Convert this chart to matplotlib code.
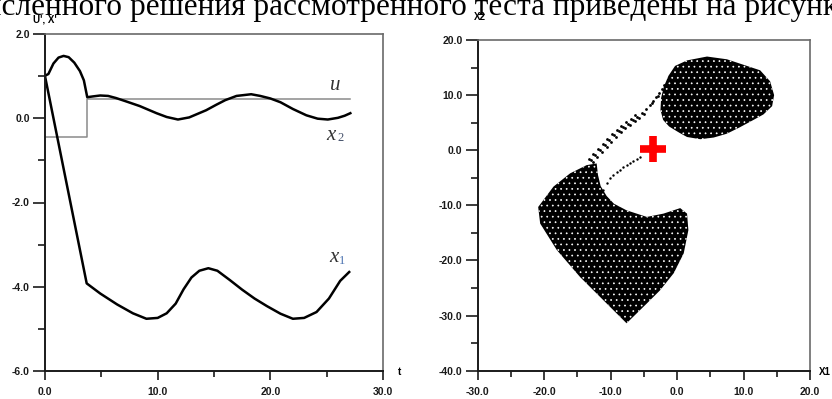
import matplotlib
matplotlib.use("Agg")
import matplotlib.pyplot as plt
from matplotlib.ticker import MultipleLocator, FormatStrFormatter

# --- left panel: controls and states over time ---
u_t = [0.0, 3.73, 3.73, 27.1]
u_val = [-0.45, -0.45, 0.46, 0.46]

x1_t = [0.0, 3.7, 4.9, 6.4, 7.8, 9.0, 10.0, 10.8, 11.6, 12.3, 13.0, 13.7, 14.5,
        15.3, 16.4, 17.5, 18.6, 19.7, 20.9, 22.0, 23.0, 24.1, 25.2, 26.2, 27.0]
x1_val = [1.0, -3.92, -4.16, -4.42, -4.63, -4.76, -4.74, -4.63, -4.40, -4.06, -3.78,
          -3.62, -3.56, -3.62, -3.84, -4.07, -4.28, -4.46, -4.64, -4.76, -4.74, -4.60,
          -4.28, -3.86, -3.65]

x2_t = [0.0, 0.3, 0.75, 1.2, 1.65, 2.1, 2.6, 3.1, 3.45, 3.75, 4.3, 4.9, 5.6, 6.3,
        7.2, 8.4, 9.9, 10.8, 11.8, 12.8, 14.3, 15.2, 16.0, 17.0, 18.3, 19.1, 20.0,
        20.9, 22.0, 23.2, 24.2, 25.1, 26.0, 26.6, 27.1]
x2_val = [1.01, 1.05, 1.30, 1.44, 1.48, 1.45, 1.32, 1.12, 0.90, 0.50, 0.52, 0.54,
          0.53, 0.48, 0.40, 0.29, 0.12, 0.03, -0.03, 0.02, 0.19, 0.32, 0.43, 0.53,
          0.57, 0.53, 0.47, 0.38, 0.22, 0.07, -0.01, -0.03, 0.01, 0.06, 0.12]

# --- right panel: reachable set in the (X1, X2) plane ---
upper_x = [-0.3, 1.5, 4.5, 7.5, 10.0, 12.5, 14.0, 14.6, 14.3, 13.0, 11.5, 9.5, 7.5,
           5.5, 3.5, 1.5, 0.3, -1.2, -2.1, -2.5, -2.4, -2.0, -1.3]
upper_y = [15.3, 16.3, 17.0, 16.5, 15.5, 14.5, 12.5, 10.0, 8.0, 6.5, 5.5, 4.2, 3.0,
           2.3, 2.0, 2.4, 3.2, 4.3, 5.5, 7.3, 9.5, 11.5, 13.5]

lower_x = [-20.9, -18.6, -16.1, -13.6, -12.1, -11.9, -11.5, -10.6, -9.5, -7.6, -4.55,
           -2.05, 0.47, 1.5, 1.7, 1.0, -0.5, -2.55, -4.55, -7.6, -8.6, -11.1, -14.6,
           -18.1, -20.6]
lower_y = [-10.3, -6.6, -4.2, -2.7, -2.4, -4.5, -6.5, -8.3, -9.7, -10.9, -12.1,
           -11.5, -10.5, -11.5, -14.5, -18.7, -22.3, -25.4, -27.8, -31.4, -30.2,
           -27.2, -23.0, -18.1, -13.3]

band_x = [-13.0, -13.3, -12.7, -12.3, -12.6, -12.0, -11.6, -11.9, -11.3, -10.9, -11.2,
          -10.6, -10.2, -10.5, -9.9, -9.5, -9.8, -9.2, -8.8, -9.1, -8.5, -8.1, -8.4,
          -7.8, -7.4, -7.7, -7.1, -6.7, -7.0, -6.4, -6.0, -6.3, -5.7, -5.3, -5.0,
          -4.7, -4.1, -3.8, -3.6, -3.1, -2.9, -2.7, -2.3, -2.0]
band_y = [-1.8, -1.55, -2.05, -0.9, -0.65, -1.15, 0.0, 0.25, -0.25, 0.9, 1.15, 0.65,
          1.8, 2.05, 1.55, 2.7, 2.95, 2.45, 3.5, 3.75, 3.25, 4.2, 4.45, 3.95, 4.8,
          5.05, 4.55, 5.5, 5.75, 5.25, 6.1, 6.35, 5.85, 6.8, 6.6, 7.5, 8.2, 8.5, 8.9,
          9.6, 9.9, 10.3, 11.1, 11.9]

trail_x = [-11.1, -10.6, -10.1, -9.6, -9.1, -8.6, -8.1, -7.6, -7.1, -6.6, -6.05, -5.6]
trail_y = [-7.2, -6.0, -5.1, -4.5, -4.0, -3.5, -3.1, -2.7, -2.3, -1.9, -1.5, -1.2]

target_x, target_y = -3.65, 0.16

plt.rcParams["font.family"] = ["Liberation Sans", "DejaVu Sans"]
plt.rcParams["font.weight"] = "bold"
plt.rcParams["hatch.linewidth"] = 0.5

W, H = 832, 399
fig = plt.figure(figsize=(W / 100, H / 100), dpi=100)
ax1 = fig.add_axes([45 / W, 28 / H, 338 / W, 337 / H])
ax2 = fig.add_axes([477.7 / W, 28.3 / H, 332.3 / W, 330.7 / H])


def style(ax, xmaj, ymaj):
    for s in ["left", "bottom"]:
        ax.spines[s].set_color("#1a1a1a")
        ax.spines[s].set_linewidth(1.4)
    for s in ["top", "right"]:
        ax.spines[s].set_color("#6a6a6a")
        ax.spines[s].set_linewidth(1.2)
    ax.xaxis.set_major_locator(MultipleLocator(xmaj))
    ax.xaxis.set_minor_locator(MultipleLocator(xmaj / 2))
    ax.yaxis.set_major_locator(MultipleLocator(ymaj))
    ax.yaxis.set_minor_locator(MultipleLocator(ymaj / 2))
    ax.xaxis.set_major_formatter(FormatStrFormatter("%.1f"))
    ax.yaxis.set_major_formatter(FormatStrFormatter("%.1f"))
    ax.tick_params(which="both", direction="out", width=1.2, colors="#1a1a1a",
                   labelsize=7.5)
    ax.tick_params(axis="y", which="major", length=8.5, pad=2.5)
    ax.tick_params(axis="y", which="minor", length=5)
    ax.tick_params(axis="x", which="major", length=6.5, pad=5)
    ax.tick_params(axis="x", which="minor", length=4.5)


# left panel
ax1.plot(u_t, u_val, color="#8a8a8a", lw=1.1)
ax1.plot(x2_t, x2_val, color="black", lw=1.8, solid_joinstyle="round")
ax1.plot(x1_t, x1_val, color="black", lw=1.8, solid_joinstyle="round")
ax1.set_xlim(0, 30)
ax1.set_ylim(-6, 2)
style(ax1, 10, 2)

serif = dict(family="Liberation Serif", style="italic", fontweight="normal",
             color="#333333", ha="center", va="center")
ax1.text(25.75, 0.77, "u", fontsize=15, **serif)
ax1.text(25.4, -0.40, "x", fontsize=15, **serif)
ax1.text(26.2, -0.47, "2", fontsize=9, **{**serif, "style": "normal",
                                           "color": "#44506a"})
ax1.text(25.6, -3.31, "x", fontsize=15, **serif)
ax1.text(26.35, -3.38, "1", fontsize=9, **{**serif, "style": "normal",
                                            "color": "#4a72b0"})

fig.text(33 / W, 1 - 20 / H, "U', X'", fontsize=7, ha="left", va="center")
fig.text(400 / W, 1 - 372 / H, "t", fontsize=7, ha="center", va="center")

# right panel
for px, py in [(upper_x, upper_y), (lower_x, lower_y)]:
    ax2.fill(px, py, facecolor="black", edgecolor="white", lw=0, hatch="...")
ax2.scatter(band_x, band_y, s=4, color="black", lw=0)
ax2.scatter(trail_x, trail_y, s=3, color="black", lw=0)
ax2.plot([target_x], [target_y], marker="+", ms=19, mew=5.5, color="#ff0000")
ax2.set_xlim(-30, 20)
ax2.set_ylim(-40, 20)
style(ax2, 10, 10)

fig.text(480 / W, 1 - 17 / H, "X2", fontsize=7, ha="center", va="center")
fig.text(825 / W, 1 - 372 / H, "X1", fontsize=7, ha="center", va="center")

# running text line above the panels
body = dict(family="Liberation Serif", fontweight="normal", fontsize=22.5,
            va="baseline", color="black")
fig.text(122 / W, 1 - 15 / H, "численного", ha="right", **body)
fig.text(130 / W, 1 - 15 / H, "решения рассмотренного теста приведены на рисунке",
         ha="left", **body)

fig.savefig("out.png", dpi=100)
